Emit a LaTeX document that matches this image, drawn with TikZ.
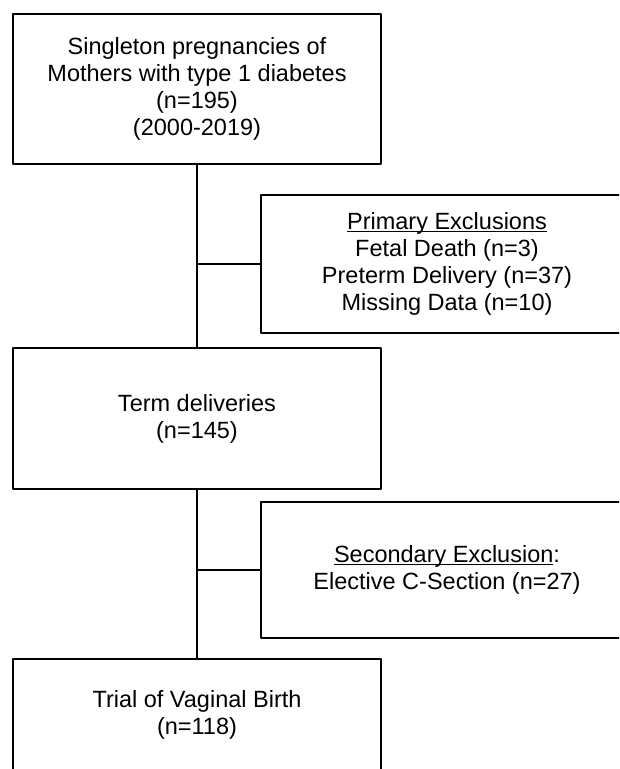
\documentclass[tikz,border=0pt]{standalone}
\usepackage{fontspec}
\setmainfont{Liberation Sans}
% underline close to the baseline, as in the reference
\newcommand\ulinetext[1]{\setbox0\hbox{#1}\rlap{\rule[-2.8pt]{\wd0}{1.5pt}}\box0}
\begin{document}
\begin{tikzpicture}[x=1pt, y=-1pt, line width=1.8pt, line join=round,
    font=\fontsize{23.5}{27}\selectfont,
    mainbox/.style={draw, align=center, inner sep=0pt, minimum width=368pt},
    exclbox/.style={draw, align=center, inner sep=0pt, minimum width=372pt}]
            \useasboundingbox (0,0) rectangle (619,769);
            \clip (0,0) rectangle (619,769);
            \node[mainbox, minimum height=150pt] (start) at (197,89)
            {Singleton pregnancies of\\Mothers with type 1 diabetes\\(n=195)\\(2000-2019)};
            \node[exclbox, minimum height=138pt] (primary) at (447,264)
            {\ulinetext{Primary Exclusions}\\Fetal Death (n=3)\\Preterm Delivery (n=37)\\Missing Data (n=10)};
            \node[mainbox, minimum height=141pt] (term) at (197,418.5)
            {Term deliveries\\(n=145)};
            \node[exclbox, minimum height=136pt] (secondary) at (447,570)
            {\ulinetext{Secondary Exclusion}:\\Elective C-Section (n=27)};
            \node[mainbox, minimum height=112pt] (trial) at (197,715)
            {Trial of Vaginal Birth\\(n=118)};
            \coordinate (j1) at (start.south |- primary.west);
            \coordinate (j2) at (term.south |- secondary.west);
            \draw (start.south)--(term.north);
            \draw (term.south)--(trial.north);
            \draw (j1)--(primary.west);
            \draw (j2)--(secondary.west);
        \end{tikzpicture}
\end{document}
